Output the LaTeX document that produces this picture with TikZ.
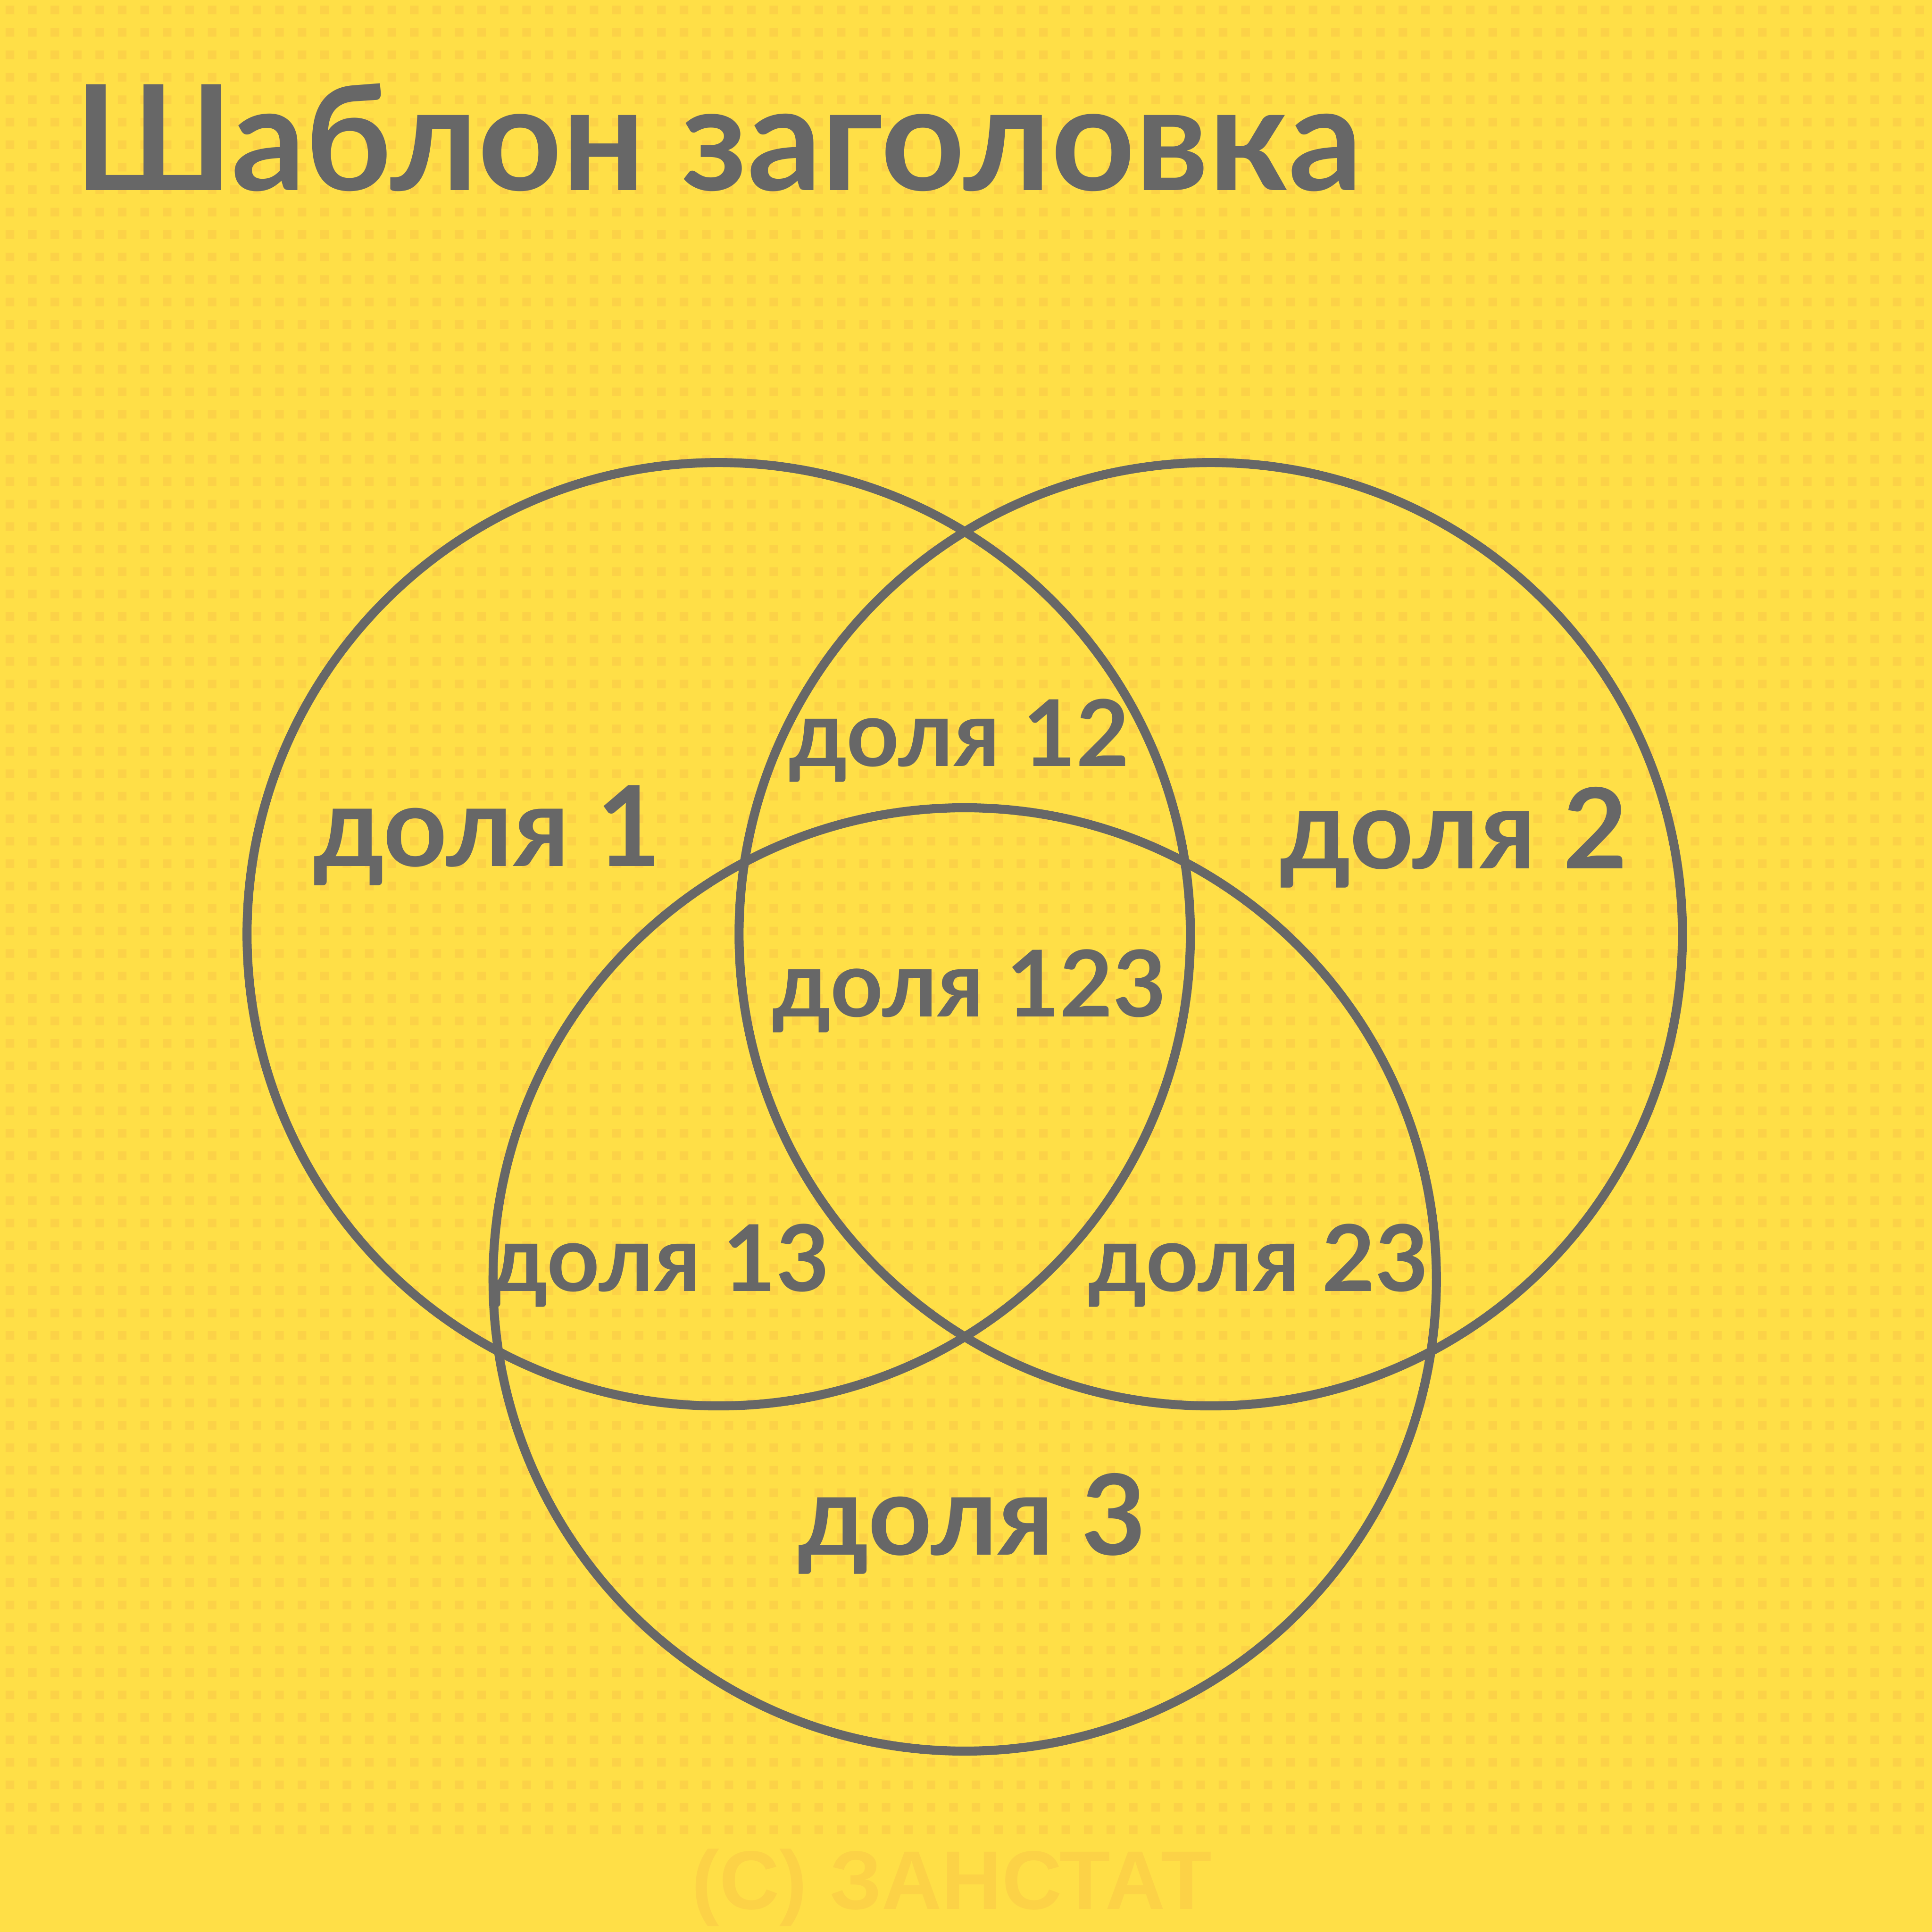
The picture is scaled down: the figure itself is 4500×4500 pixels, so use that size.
\documentclass[tikz,border=0pt]{standalone}
\usepackage{fontspec}
\setmainfont{Lato}
\setsansfont{Liberation Sans}
\usepackage{xcolor}

\definecolor{bgyellow}{HTML}{FFDF47}
\definecolor{dotyellow}{HTML}{FCD247}
\definecolor{inkgray}{HTML}{676767}

\begin{document}
\begin{tikzpicture}[x=0.01cm, y=-0.01cm,
    ring/.style={draw=inkgray, line width=0.21cm, circle, minimum size=21.96cm, inner sep=0pt},
    share/.style={text=inkgray, inner sep=0pt, anchor=base, font=\fontsize{61}{61}\selectfont\bfseries},
    bigshare/.style={share, font=\fontsize{74}{74}\selectfont\bfseries}]

  % background with dot grid
  \fill[bgyellow] (0,0) rectangle (4500,4500);
  \useasboundingbox (0,0) rectangle (4500,4500);
  \foreach \j in {0,...,81} {
    \fill[dotyellow] \foreach \i in {0,...,85} {({13+52.33*\i},{13+52.33*\j}) rectangle ++(20,20)};
  }

  % three sets
  \node[ring] (c1) at (1674,2176) {};
  \node[ring] (c2) at (2820,2176) {};
  \node[ring] (c3) at (2247,2980) {};

  \node[bigshare] (s1) at (1135,2018) {доля 1};
  \node[bigshare] (s2) at (3386,2023) {доля 2};
  \node[bigshare] (s3) at (2264,3622) {доля 3};
  \node[share] (s12) at (2234,1785) {доля 12};
  \node[share] (s123) at (2258,2368) {доля 123};
  \node[share] (s13) at (1536,3008) {доля 13};
  \node[share] (s23) at (2931,3008) {доля 23};

  % title and watermark
  \node[text=inkgray, inner sep=0pt, anchor=base west, font=\fontsize{97}{97}\selectfont\bfseries]
    (title) at (172,443) {Шаблон заголовка};
  \node[text=dotyellow, inner sep=0pt, anchor=base, font=\sffamily\fontsize{55}{55}\selectfont\bfseries]
    (mark) at (2217,4447) {(С) ЗАНСТАТ};
\end{tikzpicture}
\end{document}
